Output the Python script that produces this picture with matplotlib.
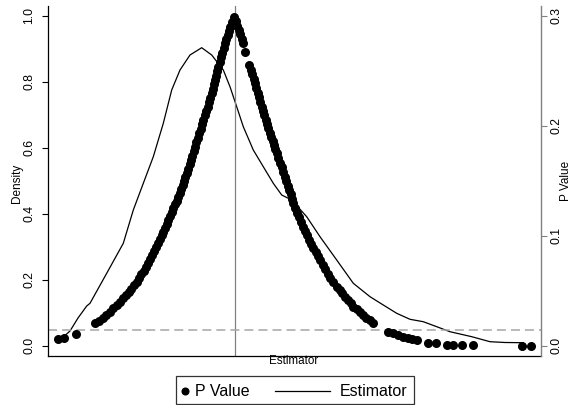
import numpy as np
import matplotlib
matplotlib.use("Agg")
import matplotlib.pyplot as plt
from matplotlib.patches import Rectangle
from matplotlib.lines import Line2D

plt.rcParams['font.family'] = ['Liberation Sans', 'DejaVu Sans']
plt.rcParams['lines.scale_dashes'] = False

# p value of each estimate (right axis)
est_pts = [-0.354, -0.342, -0.318,
           -0.279, -0.2715, -0.264, -0.2565, -0.249, -0.2424, -0.2357, -0.2291, -0.2224,
           -0.217, -0.2117, -0.2063, -0.201, -0.1956, -0.191, -0.1863, -0.1817, -0.177,
           -0.1724, -0.1684, -0.1644, -0.1604, -0.1564, -0.1524, -0.149, -0.1457, -0.1424,
           -0.139, -0.1357, -0.1324, -0.129, -0.1257, -0.1224, -0.119, -0.1157, -0.1124,
           -0.1096, -0.1068, -0.104, -0.1012, -0.0984, -0.0956, -0.0928, -0.09, -0.0873,
           -0.0845, -0.0818, -0.079, -0.0762, -0.0735, -0.0707, -0.0679, -0.0652, -0.0624,
           -0.0596, -0.0568, -0.054, -0.0512, -0.0484, -0.0456, -0.0434, -0.0412, -0.039,
           -0.0368, -0.0346, -0.0324, -0.0297, -0.027, -0.0244, -0.0217, -0.019, -0.0165,
           -0.014, -0.0115, -0.009, -0.005, -0.001,
           0.0021, 0.0052, 0.0083, 0.0114, 0.0145, 0.0176, 0.021,
           0.0296, 0.0325, 0.0353, 0.0382, 0.041, 0.0437, 0.0464, 0.049, 0.0517, 0.0544,
           0.057, 0.0597, 0.0623, 0.065, 0.0676, 0.0704, 0.0732, 0.076, 0.0788, 0.0816,
           0.0844, 0.0877, 0.091, 0.0944, 0.0977, 0.101, 0.1038, 0.1066, 0.1093, 0.1121,
           0.1148, 0.1176, 0.1216, 0.1256, 0.1296, 0.1336, 0.1376, 0.1416, 0.1456, 0.1496,
           0.1536, 0.1576, 0.1621, 0.1665, 0.171, 0.176, 0.181, 0.186, 0.191, 0.1977,
           0.2044, 0.21, 0.2155, 0.221, 0.2265, 0.2321, 0.2376, 0.2443, 0.2509, 0.2576,
           0.2639, 0.2701, 0.2764,
           0.3076, 0.3176, 0.3276, 0.3376, 0.3466, 0.3555, 0.3644,
           0.3876, 0.403, 0.4244, 0.437, 0.4544, 0.4764, 0.5756, 0.5924]
pval_pts = [0.0058, 0.0073, 0.0109,
            0.0204, 0.0229, 0.0255, 0.0282, 0.0309, 0.0339, 0.0369, 0.0400, 0.0431,
            0.0461, 0.0490, 0.0520, 0.0551, 0.0582, 0.0615, 0.0649, 0.0682, 0.0716,
            0.0749, 0.0785, 0.0822, 0.0858, 0.0895, 0.0931, 0.0966, 0.1002, 0.1037,
            0.1072, 0.1108, 0.1143, 0.1178, 0.1214, 0.1249, 0.1284, 0.1320, 0.1355,
            0.1390, 0.1426, 0.1461, 0.1496, 0.1532, 0.1567, 0.1607, 0.1648, 0.1688,
            0.1728, 0.1769, 0.1809, 0.1850, 0.1890, 0.1931, 0.1971, 0.2012, 0.2052,
            0.2093, 0.2133, 0.2174, 0.2214, 0.2255, 0.2295, 0.2335, 0.2376, 0.2416,
            0.2456, 0.2496, 0.2536, 0.2579, 0.2621, 0.2664, 0.2706, 0.2749, 0.2787,
            0.2825, 0.2862, 0.2900, 0.2946, 0.2991,
            0.2951, 0.2910, 0.2870, 0.2830, 0.2789, 0.2749, 0.2673,
            0.2552, 0.2510, 0.2469, 0.2427, 0.2385, 0.2343, 0.2300, 0.2258, 0.2215, 0.2173,
            0.2134, 0.2095, 0.2054, 0.2015, 0.1976, 0.1938, 0.1900, 0.1862, 0.1825, 0.1787,
            0.1749, 0.1706, 0.1664, 0.1621, 0.1579, 0.1536, 0.1496, 0.1456, 0.1416, 0.1375,
            0.1335, 0.1295, 0.1252, 0.1210, 0.1167, 0.1125, 0.1082, 0.1043, 0.1003, 0.0964,
            0.0924, 0.0885, 0.0850, 0.0814, 0.0779, 0.0738, 0.0696, 0.0655, 0.0613, 0.0575,
            0.0536, 0.0506, 0.0475, 0.0445, 0.0415, 0.0385, 0.0355, 0.0330, 0.0304, 0.0279,
            0.0256, 0.0232, 0.0209,
            0.0127, 0.0112, 0.0097, 0.0082, 0.0072, 0.0062, 0.0052,
            0.0027, 0.0025, 0.0006, 0.0006, 0.0006, 0.0004, 0.0000, 0.0000]

# kernel density of the estimator (left axis)
dens_x = [-0.355, -0.3424, -0.329, -0.313, -0.2956, -0.289, -0.2556, -0.2224, -0.2024,
          -0.1824, -0.1624, -0.1424, -0.1256, -0.109, -0.089, -0.0656, -0.0456, -0.0224,
          -0.009, 0.0044, 0.0176, 0.0376, 0.0576, 0.0776, 0.0944, 0.1144, 0.1444, 0.171,
          0.2044, 0.2376, 0.271, 0.2976, 0.3244, 0.351, 0.3776, 0.4044, 0.431, 0.4744,
          0.511, 0.541, 0.5776]
dens_y = [0.0173, 0.0264, 0.0445, 0.0839, 0.1203, 0.1285, 0.2194, 0.3103, 0.4112,
          0.4921, 0.5727, 0.6739, 0.7748, 0.8355, 0.8809, 0.9030, 0.8809, 0.8355,
          0.7848, 0.7242, 0.6636, 0.5930, 0.5424, 0.4921, 0.4567, 0.4415, 0.3909, 0.3303,
          0.2597, 0.1891, 0.1485, 0.1233, 0.0982, 0.0800, 0.0727, 0.0576, 0.0424, 0.0273,
          0.0121, 0.0097, 0.0091]

true_est = 0.0
ref_line = 0.0476

fig = plt.figure(figsize=(5.77, 4.05), dpi=100)
ax = fig.add_axes([48 / 577, 49.3 / 405, 493 / 577, 349.7 / 405])
ax2 = ax.twinx()

ax.plot(dens_x, dens_y, color='black', lw=0.9)
ax.axvline(true_est, color='#808080', lw=0.9)
ax.axhline(ref_line, color='#a6a6a6', lw=1.1, ls=(0, (6.5, 3.6)))
ax2.plot(est_pts, pval_pts, 'o', color='black', ms=6.5, mec='none')

ax.set_xlim(-0.373, 0.613)
ax.set_ylim(-0.0303, 1.0294)
ax2.set_ylim(-0.00909, 0.30882)
ax.set_xticks([])
ax.set_yticks([0.0, 0.2, 0.4, 0.6, 0.8, 1.0])
ax.set_yticklabels(['0.0', '0.2', '0.4', '0.6', '0.8', '1.0'])
ax2.set_yticks([0.0, 0.1, 0.2, 0.3])
ax2.set_yticklabels(['0.0', '0.1', '0.2', '0.3'])

ax.tick_params(axis='y', labelrotation=90, labelsize=8.7, length=4, width=0.8, pad=5)
ax2.tick_params(axis='y', labelrotation=90, labelsize=8.7, length=4, width=0.8,
                pad=2.5, color='#808080')
for lbl in ax.get_yticklabels():
    lbl.set_va('center')
for lbl in ax2.get_yticklabels():
    lbl.set_va('center')

ax.spines['top'].set_visible(False)
ax.spines['right'].set_visible(False)
ax.spines['left'].set_linewidth(0.9)
ax.spines['bottom'].set_linewidth(0.9)
ax2.spines['top'].set_visible(False)
ax2.spines['left'].set_visible(False)
ax2.spines['bottom'].set_visible(False)
ax2.spines['right'].set_color('#808080')
ax2.spines['right'].set_linewidth(1.0)

fig.text(17 / 577, 1 - 183 / 405, 'Density', rotation=90, ha='center', va='center', fontsize=8.5)
fig.text(566 / 577, 1 - 181 / 405, 'P Value', rotation=90, ha='center', va='center', fontsize=8.5)
fig.text(293.5 / 577, 1 - 361.5 / 405, 'Estimator', ha='center', va='center', fontsize=8.4)

# legend box below the plot
fig.add_artist(Rectangle((176 / 577, 1 / 405), 238 / 577, 28 / 405, transform=fig.transFigure,
                         facecolor='white', edgecolor='#333333', lw=0.9))
ly = 1 - 391 / 405
fig.add_artist(Line2D([185 / 577], [ly], marker='o', color='black', ms=5.8, mec='none',
                      transform=fig.transFigure))
fig.text(195 / 577, ly, 'P Value', ha='left', va='center', fontsize=11.5)
fig.add_artist(Line2D([275 / 577, 330 / 577], [ly, ly], color='black', lw=0.9,
                      transform=fig.transFigure))
fig.text(340 / 577, ly, 'Estimator', ha='left', va='center', fontsize=11.5)

fig.savefig('out.png', dpi=100)
